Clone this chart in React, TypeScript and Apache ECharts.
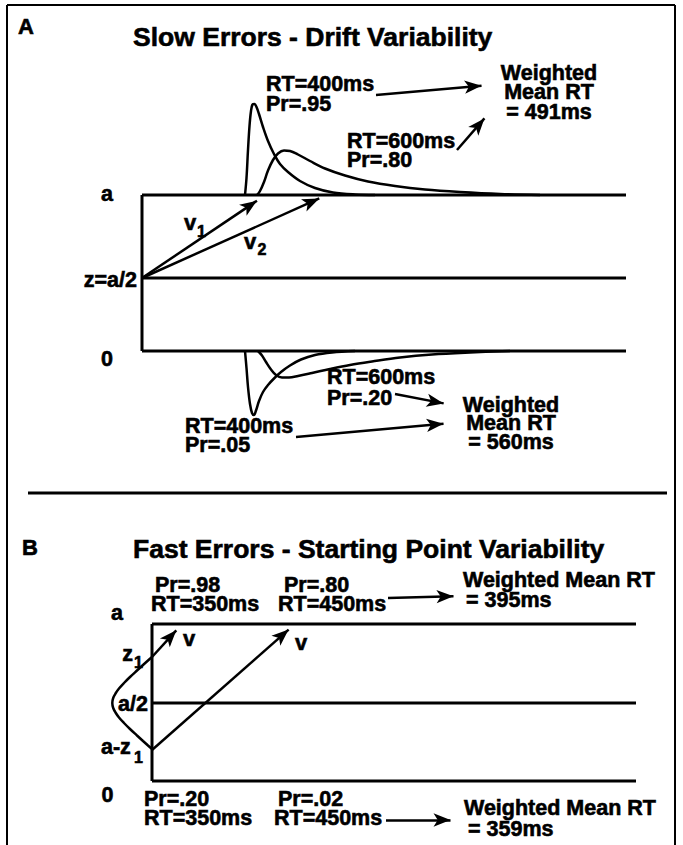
import React, { useEffect, useRef } from 'react';
import * as echarts from 'echarts';

const W = 683;
const H = 845;

// ---------------- Panel A : slow errors, drift variability ----------------
const slowTitle = 'Slow Errors - Drift Variability';
const slowRT = [400, 600]; // ms, for drift v1 and v2
const slowPrCorrect = [0.95, 0.8];
const slowPrError = [0.05, 0.2];
const slowMeanCorrect = 491;
const slowMeanError = 560;
const slowBoundaryLabels = ['a', 'z=a/2', '0'];
const slowDriftLabels = ['v', 'v'];
const slowDriftSubs = ['1', '2'];

// ---------------- Panel B : fast errors, starting point variability ----------------
const fastTitle = 'Fast Errors - Starting Point Variability';
const fastRT = [350, 450];
const fastPrCorrect = [0.98, 0.8];
const fastPrError = [0.2, 0.02];
const fastMeanCorrect = 395;
const fastMeanError = 359;

// ---------------- density curves (diagram units) ----------------
const slowCorrectV1 = [
  [245, 195], [246.5, 178], [248, 150], [249.5, 126], [251, 111], [252.5, 104.5], [254.5, 104],
  [256.5, 107], [259, 114], [263, 127], [268, 141], [274, 154], [280, 164], [288, 172],
  [300, 181], [315, 188], [333, 192.5], [355, 194.5], [375, 195],
];
const slowCorrectV2 = [
  [257, 195], [260, 191], [264, 182], [268, 170.5], [273, 160], [278, 153.5], [284, 150.5],
  [290, 151], [298, 154.5], [310, 161], [325, 168.5], [345, 175.5], [368, 181.5], [395, 186],
  [425, 189.5], [460, 192], [500, 194], [540, 195],
];
const slowErrorV1 = [
  [245, 351], [246.5, 368], [248, 387], [250, 404], [252, 413], [254, 415], [256, 410.5],
  [259, 401], [263, 392], [268, 385], [274, 378.5], [281, 372], [290, 365.5], [301, 359.5],
  [315, 355], [332, 352.5], [355, 351],
];
const slowErrorV2 = [
  [258, 351], [262, 355.5], [266, 362], [271, 369.5], [276, 375], [282, 377.5], [289, 377.5],
  [298, 376], [312, 373], [330, 369], [350, 365], [372, 361.5], [400, 357.5], [432, 354.5],
  [470, 352.5], [510, 351],
];
const startPointDensity = [
  [152, 657], [148, 660.5], [143, 665], [137, 670.5], [130, 677], [124, 683], [119, 688.5],
  [115.5, 693.5], [113.2, 698], [112.3, 703], [113.2, 708], [115.5, 712.5], [119, 717.5],
  [124, 723], [130, 729], [137, 735.5], [143, 741], [148, 745.5], [152, 749],
];

// ---------------- layout (pixels) ----------------
const FONT = '"Liberation Sans", Arial, Helvetica, sans-serif';
const LBL = 21.5;
const TITLE = 26.5;
const HEAD_W = 10;
const HEAD_L = 17;
const INK = 0.6; // extra stroke to reach the heavy print weight

const fmtPr = (p: number) => 'Pr=' + p.toFixed(2).replace(/^0/, '');
const fmtRT = (rt: number) => `RT=${rt}ms`;
const fmtMean = (m: number) => `= ${m}ms`;

type Pt = number[];

function seg(a: Pt, b: Pt, width = 3) {
  return {
    type: 'line',
    data: [a, b],
    showSymbol: false,
    symbol: 'none',
    clip: false,
    silent: true,
    lineStyle: { color: '#000', width },
    z: 2,
  };
}

function curve(data: Pt[], width = 2.5) {
  return {
    type: 'line',
    data,
    smooth: 0.35,
    showSymbol: false,
    symbol: 'none',
    clip: false,
    silent: true,
    lineStyle: { color: '#000', width },
    z: 3,
  };
}

function arrow(from: Pt, tip: Pt) {
  const dx = tip[0] - from[0];
  const dy = tip[1] - from[1];
  const L = Math.hypot(dx, dy);
  return { coords: [from, [tip[0] - (dx / L) * (HEAD_L / 2), tip[1] - (dy / L) * (HEAD_L / 2)]] };
}

function txt(text: string, x: number, y: number, align = 'left', size = LBL) {
  return {
    type: 'text',
    x,
    y,
    silent: true,
    z: 10,
    style: {
      text,
      fill: '#000',
      stroke: '#000',
      lineWidth: INK,
      fontFamily: FONT,
      fontWeight: 'bold',
      fontSize: size,
      align,
      verticalAlign: 'middle',
      textAlign: align,
      textVerticalAlign: 'middle',
    },
  };
}

// multi-line text block; y is the centre of the block, indents shift single lines right
function block(lines: string[], x: number, y: number, lh: number, align = 'left', indents?: number[]) {
  const base = {
    fontFamily: FONT,
    fontWeight: 'bold',
    fontSize: LBL,
    lineHeight: lh,
    fill: '#000',
    stroke: '#000',
    lineWidth: INK,
  };
  const rich: any = {};
  const parts = lines.map((l, i) => {
    rich['l' + i] = { ...base, padding: [0, 0, 0, indents ? indents[i] || 0 : 0] };
    return `{l${i}|${l}}`;
  });
  return {
    type: 'text',
    x,
    y,
    silent: true,
    z: 10,
    style: {
      text: parts.join('\n'),
      rich,
      ...base,
      align,
      verticalAlign: 'middle',
      textAlign: align,
      textVerticalAlign: 'middle',
    },
  };
}

function buildOption() {
  // Panel A box
  const aL = 142, aR = 626, aTop = 195, aMid = 278, aBot = 351;
  // Panel B box
  const bL = 152, bR = 636, bTop = 624, bMid = 703, bBot = 781;

  const series: any[] = [
    // outer frame
    seg([7, H + 5], [7, 5], 2),
    seg([7, 5], [675, 5], 2),
    seg([675, 5], [675, H + 5], 2),
    // separator
    seg([28, 493], [667, 493], 3),
    // Panel A boundaries
    seg([aL, aTop], [aR, aTop]),
    seg([aL, aMid], [aR, aMid]),
    seg([aL, aBot], [aR, aBot]),
    seg([aL, aTop], [aL, aBot]),
    // Panel B boundaries
    seg([bL, bTop], [bR, bTop]),
    seg([bL, bMid], [bR, bMid]),
    seg([bL, bBot], [bR, bBot]),
    seg([bL, bTop], [bL, bBot]),
    // densities
    curve(slowCorrectV1),
    curve(slowCorrectV2),
    curve(slowErrorV1),
    curve(slowErrorV2),
    curve(startPointDensity),
    {
      type: 'lines',
      coordinateSystem: 'cartesian2d',
      silent: true,
      symbol: ['none', 'arrow'],
      symbolSize: [0, [HEAD_W, HEAD_L]],
      lineStyle: { color: '#000', width: 2.5, opacity: 1, curveness: 0 },
      z: 4,
      data: [
        arrow([aL, aMid], [264, 196]),
        arrow([aL, aMid], [327, 195]),
        arrow([376, 95], [490, 85]),
        arrow([457, 150], [490, 112]),
        arrow([395, 394], [452, 405]),
        arrow([296, 437], [452, 423]),
        arrow([bL, 657], [182, 624]),
        arrow([bL, 750], [295, 624]),
        arrow([388, 598], [462, 596]),
        arrow([386, 820], [459, 820]),
      ],
    },
  ];

  const graphic: any[] = [
    // Panel A
    txt('A', 18, 26, 'left', 22),
    txt(slowTitle, 133, 37, 'left', TITLE),
    block([fmtRT(slowRT[0]), fmtPr(slowPrCorrect[0])], 266, 93.75, 19.5),
    block([fmtRT(slowRT[1]), fmtPr(slowPrCorrect[1])], 347, 150.25, 19.5),
    block(['Weighted', 'Mean RT', fmtMean(slowMeanCorrect)], 549, 92, 19.5, 'center'),
    txt(slowBoundaryLabels[0], 107, 194, 'center'),
    txt(slowBoundaryLabels[1], 137, 280, 'right'),
    txt(slowBoundaryLabels[2], 107, 359, 'center'),
    txt(slowDriftLabels[0], 190, 222, 'center', 22),
    txt(slowDriftSubs[0], 201.5, 231, 'center', 16),
    txt(slowDriftLabels[1], 250, 241, 'center', 22),
    txt(slowDriftSubs[1], 262, 249.5, 'center', 16),
    block([fmtRT(slowRT[1]), fmtPr(slowPrError[1])], 327, 387.25, 20.5),
    block(['Weighted', 'Mean RT', fmtMean(slowMeanError)], 511, 423.25, 18.75, 'center'),
    block([fmtRT(slowRT[0]), fmtPr(slowPrError[0])], 185, 435, 19),
    // Panel B
    txt('B', 22, 547, 'left', 22),
    txt(fastTitle, 133, 549, 'left', TITLE),
    block([fmtPr(fastPrCorrect[0]), fmtRT(fastRT[0])], 151, 594.25, 18.5, 'left', [4, 0]),
    block([fmtPr(fastPrCorrect[1]), fmtRT(fastRT[1])], 278, 594.25, 18.5, 'left', [6, 0]),
    block(['Weighted Mean RT', fmtMean(fastMeanCorrect)], 463, 589.75, 20.5, 'left', [0, 3]),
    txt('a', 117, 613, 'center'),
    txt('z', 127.5, 654, 'center'),
    txt('1', 138.5, 662, 'center', 16),
    txt('a/2', 148, 704, 'right'),
    txt('a-z', 101, 747, 'left'),
    txt('1', 138.5, 757, 'center', 16),
    txt('0', 107.5, 795, 'center'),
    txt('v', 189, 638, 'center', 22),
    txt('v', 301, 642, 'center', 22),
    block([fmtPr(fastPrError[0]), fmtRT(fastRT[0])], 144, 808, 19),
    block([fmtPr(fastPrError[1]), fmtRT(fastRT[1])], 274, 808, 19, 'left', [4, 0]),
    block(['Weighted Mean RT', fmtMean(fastMeanError)], 464, 818, 21, 'left', [0, 4]),
  ];

  return {
    animation: false,
    backgroundColor: '#fff',
    grid: { left: 0, right: 0, top: 0, bottom: 0 },
    xAxis: { type: 'value', min: 0, max: W, show: false },
    yAxis: { type: 'value', min: 0, max: H, inverse: true, show: false },
    series,
    graphic,
  };
}

export default function App() {
  const ref = useRef<HTMLDivElement>(null);
  useEffect(() => {
    if (!ref.current) return;
    const chart = echarts.init(ref.current, null, { renderer: 'svg' });
    chart.setOption(buildOption() as any);
    return () => chart.dispose();
  }, []);
  return (
    <div
      ref={ref}
      style={{ position: 'absolute', left: 0, top: 0, width: W, height: H, background: '#fff' }}
    />
  );
}
